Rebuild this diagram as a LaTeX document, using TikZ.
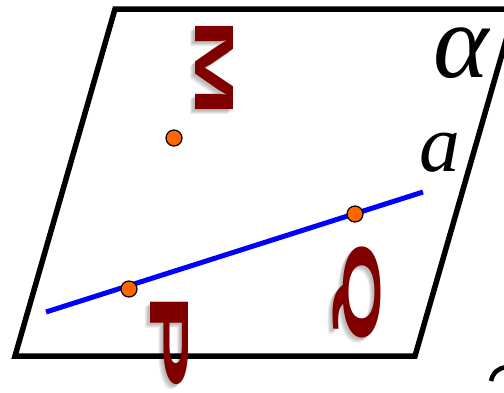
\documentclass[tikz,border=0pt]{standalone}
\usepackage{fontspec}
\setmainfont{Liberation Serif}
\newfontfamily\lsans{Liberation Sans}
\usepackage{graphicx}
\definecolor{lab}{RGB}{128,0,0}
\definecolor{pt}{RGB}{255,102,0}
\newcommand{\rotlab}[3]{\resizebox*{#1}{#2}{\lsans\bfseries #3}}
\begin{document}
\begin{tikzpicture}[x=1bp,y=-1bp,
  edge/.style={line width=5.5bp, line join=miter},
  dot/.style={circle, fill=pt, draw=black, line width=1.2bp, minimum size=16bp, inner sep=0},
  lbl/.style={text=lab, inner sep=0, rotate=-90},
  shad/.style={text=black, opacity=0.07, inner sep=0, rotate=-90},
  ]
\useasboundingbox (0,0) rectangle (504,392);
\begin{scope}
\clip (0,0) rectangle (504,392);
\coordinate (A) at (15,356);
\coordinate (B) at (415,356);
\coordinate (C) at (515,9);
\coordinate (D) at (115,9);
\draw[edge] (A) -- (B) -- (C) -- (D) -- cycle;
% line a
\coordinate (a1) at (46,312);
\coordinate (a2) at (423,192);
\draw[blue, line width=5bp] (a1) -- (a2);
% labels shadows
\foreach \dx/\dy in {-2/2,-4/4,-5/5,-3/3}{
  \node[shad] (sM\dx) at (214+\dx,68+\dy) {\rotlab{99bp}{38bp}{M}};
  \node[shad] (sP\dx) at (169+\dx,341+\dy) {\rotlab{97bp}{38bp}{P}};
  \node[shad] (sQ\dx) at (357+\dx,293+\dy) {\rotlab{102bp}{48bp}{Q}};
}
\node[lbl] (labM) at (214,68) {\rotlab{99bp}{38bp}{M}};
\node[lbl] (labP) at (169,341) {\rotlab{97bp}{38bp}{P}};
\node[lbl] (labQ) at (357,293) {\rotlab{102bp}{48bp}{Q}};
% points
\node[dot] (M) at (174,138) {};
\node[dot] (P) at (129,289) {};
\node[dot] (Q) at (355,214) {};
% greek labels
\node[inner sep=0] (alpha) at (461,53) {\fontsize{106}{106}\selectfont\itshape α};
\node[inner sep=0] (la) at (440,153) {\fontsize{82}{82}\selectfont\itshape a};
% partial glyph at the corner
\draw[line width=4.5bp] (491,381) .. controls (493,372) and (499,368) .. (506,367);
\end{scope}
\end{tikzpicture}
\end{document}
